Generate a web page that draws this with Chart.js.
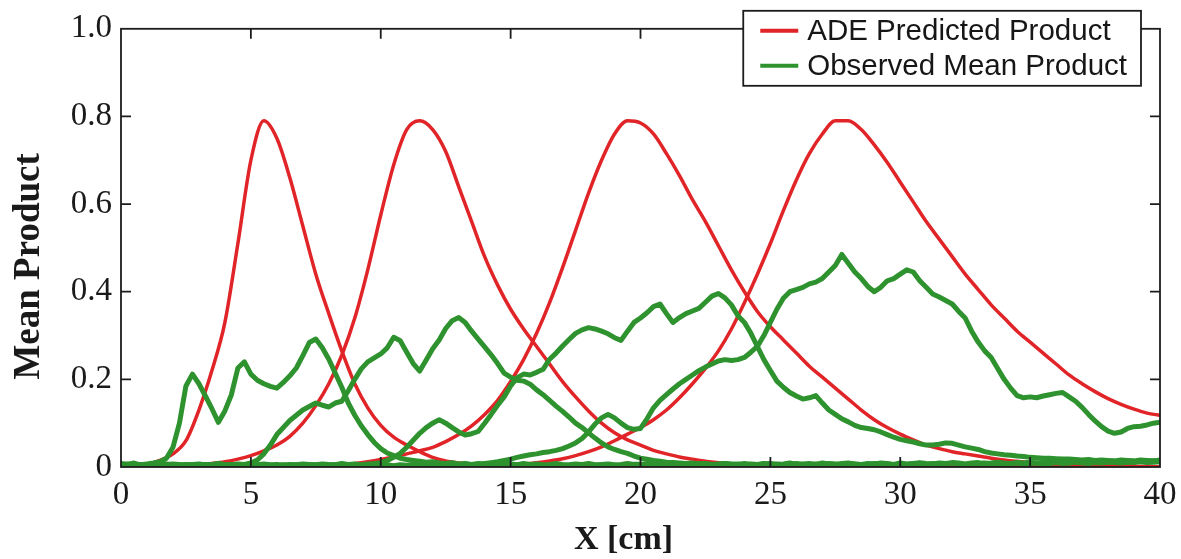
<!DOCTYPE html>
<html>
<head>
<meta charset="utf-8">
<script src="https://cdn.jsdelivr.net/npm/chart.js@4.4.1/dist/chart.umd.min.js"></script>
<style>
  html, body { margin: 0; padding: 0; background: #fff; }
</style>
</head>
<body>
<canvas id="product_chart" width="1181" height="559"></canvas>
<script>
// axis ticks
const xTickValues = [0, 5, 10, 15, 20, 25, 30, 35, 40];
const xTickLabels = ['0', '5', '10', '15', '20', '25', '30', '35', '40'];
const yTickValues = [0, 0.2, 0.4, 0.6, 0.8, 1.0];
const yTickLabels = ['0', '0.2', '0.4', '0.6', '0.8', '1.0'];

const seriesNames = ['ADE Predicted Product', 'Observed Mean Product'];

// ADE predictions, sampled every 0.5 cm from x = 0 to 40
const RED_STEP = 0.5;
const ade1 = [
  0, 0.001, 0.006, 0.015, 0.03, 0.06, 0.13, 0.22, 0.33, 0.51,
  0.70, 0.79, 0.75, 0.66, 0.55, 0.44, 0.35, 0.265, 0.19, 0.135,
  0.095, 0.068, 0.05, 0.035, 0.022, 0.014, 0.009, 0.005, 0.003, 0.002,
  0.001, 0, 0, 0, 0, 0, 0, 0, 0, 0,
  0, 0, 0, 0, 0, 0, 0, 0, 0, 0,
  0, 0, 0, 0, 0, 0, 0, 0, 0, 0,
  0, 0, 0, 0, 0, 0, 0, 0, 0, 0,
  0, 0, 0, 0, 0, 0, 0, 0, 0, 0,
  0
];
const ade2 = [
  0, 0, 0, 0.001, 0.002, 0.003, 0.005, 0.008, 0.012, 0.018,
  0.026, 0.037, 0.05, 0.07, 0.1, 0.14, 0.19, 0.255, 0.34, 0.45,
  0.575, 0.69, 0.77, 0.79, 0.77, 0.72, 0.64, 0.56, 0.48, 0.415,
  0.36, 0.315, 0.275, 0.235, 0.195, 0.16, 0.128, 0.1, 0.078, 0.062,
  0.05, 0.038, 0.03, 0.023, 0.018, 0.013, 0.01, 0.007, 0.005, 0.004,
  0.003, 0.002, 0.002, 0.001, 0, 0, 0, 0, 0, 0,
  0, 0, 0, 0, 0, 0, 0, 0, 0, 0,
  0, 0, 0, 0, 0, 0, 0, 0, 0, 0,
  0
];
const ade3 = [
  0, 0, 0, 0, 0, 0, 0, 0, 0, 0,
  0, 0, 0.001, 0.001, 0.002, 0.002, 0.003, 0.005, 0.008, 0.012,
  0.017, 0.023, 0.03, 0.037, 0.045, 0.058, 0.074, 0.094, 0.12, 0.152,
  0.195, 0.245, 0.305, 0.375, 0.455, 0.54, 0.625, 0.70, 0.76, 0.79,
  0.785, 0.76, 0.715, 0.665, 0.61, 0.56, 0.505, 0.45, 0.40, 0.355,
  0.32, 0.29, 0.26, 0.23, 0.205, 0.18, 0.155, 0.13, 0.108, 0.09,
  0.075, 0.062, 0.05, 0.042, 0.035, 0.03, 0.025, 0.02, 0.016, 0.013,
  0.01, 0.008, 0.006, 0.005, 0.004, 0.003, 0.002, 0.002, 0.001, 0.001,
  0
];
const ade4 = [
  0, 0, 0, 0, 0, 0, 0, 0, 0, 0,
  0, 0, 0, 0, 0, 0, 0, 0, 0, 0,
  0, 0, 0, 0, 0, 0, 0.001, 0.001, 0.002, 0.003,
  0.005, 0.007, 0.01, 0.014, 0.019, 0.026, 0.035, 0.046, 0.06, 0.075,
  0.09, 0.108, 0.13, 0.158, 0.19, 0.225, 0.265, 0.315, 0.375, 0.44,
  0.51, 0.585, 0.655, 0.715, 0.76, 0.79, 0.79, 0.77, 0.735, 0.695,
  0.65, 0.605, 0.56, 0.52, 0.48, 0.44, 0.405, 0.37, 0.34, 0.31,
  0.285, 0.26, 0.235, 0.21, 0.19, 0.172, 0.156, 0.143, 0.132, 0.123,
  0.118
];

// observed means, sampled every 0.25 cm from x = 0 to 40
const GREEN_STEP = 0.25;
const obs1 = [
  0.008, 0.006, 0.009, 0.005, 0.007, 0.009, 0.012, 0.02, 0.045, 0.1, 0.185, 0.212, 0.19, 0.162, 0.133, 0.102, 0.128, 0.165, 0.226, 0.24,
  0.212, 0.198, 0.19, 0.184, 0.18, 0.193, 0.208, 0.226, 0.254, 0.284, 0.292, 0.272, 0.246, 0.214, 0.182, 0.146, 0.118, 0.094, 0.074, 0.056,
  0.042, 0.032, 0.026, 0.02, 0.017, 0.015, 0.013, 0.011, 0.012, 0.009, 0.008, 0.01, 0.007, 0.008, 0.006, 0.008, 0.007, 0.005, 0.007, 0.006,
  0.007, 0.005, 0.008, 0.006, 0.007, 0.005, 0.006, 0.008, 0.006, 0.005, 0.007, 0.006, 0.008, 0.005, 0.006, 0.007, 0.005, 0.006, 0.008, 0.006,
  0.006, 0.008, 0.005, 0.007, 0.006, 0.008, 0.007, 0.005, 0.006, 0.008, 0.007, 0.006, 0.005, 0.008, 0.007, 0.006, 0.008, 0.006, 0.005, 0.007,
  0.008, 0.006, 0.007, 0.009, 0.006, 0.007, 0.008, 0.006, 0.009, 0.007, 0.006, 0.008, 0.009, 0.007, 0.006, 0.008, 0.007, 0.009, 0.008, 0.006,
  0.009, 0.007, 0.008, 0.01, 0.008, 0.007, 0.009, 0.008, 0.01, 0.009, 0.007, 0.009, 0.01, 0.008, 0.009, 0.011, 0.009, 0.008, 0.01, 0.009,
  0.011, 0.009, 0.01, 0.012, 0.01, 0.011, 0.009, 0.012, 0.011, 0.01, 0.012, 0.011, 0.013, 0.011, 0.012, 0.014, 0.012, 0.013, 0.012, 0.014,
  0.013
];
const obs2 = [
  0.005, 0.007, 0.004, 0.006, 0.005, 0.008, 0.006, 0.005, 0.007, 0.006, 0.004, 0.006, 0.007, 0.005, 0.006, 0.008, 0.006, 0.005, 0.007, 0.006,
  0.009, 0.016, 0.03, 0.05, 0.074, 0.09, 0.106, 0.118, 0.13, 0.138, 0.146, 0.141, 0.137, 0.146, 0.15, 0.174, 0.2, 0.224, 0.24, 0.249,
  0.258, 0.272, 0.296, 0.288, 0.262, 0.236, 0.219, 0.244, 0.27, 0.29, 0.316, 0.334, 0.341, 0.33, 0.31, 0.292, 0.274, 0.256, 0.236, 0.214,
  0.205, 0.198, 0.196, 0.189, 0.176, 0.165, 0.152, 0.139, 0.127, 0.114, 0.1, 0.09, 0.078, 0.066, 0.055, 0.046, 0.04, 0.035, 0.031, 0.025,
  0.02, 0.018, 0.015, 0.013, 0.011, 0.01, 0.009, 0.008, 0.009, 0.007, 0.008, 0.006, 0.007, 0.008, 0.006, 0.007, 0.005, 0.007, 0.006, 0.008,
  0.006, 0.007, 0.005, 0.006, 0.008, 0.006, 0.005, 0.007, 0.006, 0.008, 0.007, 0.005, 0.006, 0.007, 0.005, 0.006, 0.008, 0.006, 0.007, 0.005,
  0.007, 0.006, 0.008, 0.007, 0.006, 0.008, 0.006, 0.007, 0.009, 0.007, 0.006, 0.008, 0.007, 0.009, 0.007, 0.008, 0.006, 0.008, 0.009, 0.007,
  0.008, 0.009, 0.007, 0.008, 0.01, 0.008, 0.009, 0.011, 0.009, 0.008, 0.01, 0.009, 0.011, 0.01, 0.009, 0.011, 0.01, 0.012, 0.01, 0.011,
  0.012
];
const obs3 = [
  0.005, 0.004, 0.006, 0.005, 0.004, 0.006, 0.005, 0.007, 0.005, 0.004, 0.006, 0.005, 0.004, 0.006, 0.005, 0.007, 0.005, 0.006, 0.004, 0.005,
  0.006, 0.005, 0.007, 0.005, 0.006, 0.004, 0.006, 0.005, 0.007, 0.006, 0.005, 0.007, 0.006, 0.005, 0.008, 0.006, 0.007, 0.005, 0.007, 0.008,
  0.01, 0.015, 0.022, 0.031, 0.045, 0.061, 0.077, 0.09, 0.1, 0.108, 0.1, 0.09, 0.08, 0.073, 0.076, 0.081, 0.1, 0.12, 0.141, 0.16,
  0.185, 0.204, 0.212, 0.21, 0.216, 0.223, 0.246, 0.26, 0.276, 0.291, 0.305, 0.313, 0.318, 0.315, 0.31, 0.304, 0.295, 0.289, 0.31, 0.33,
  0.34, 0.352, 0.366, 0.372, 0.35, 0.33, 0.341, 0.35, 0.356, 0.362, 0.376, 0.39, 0.396, 0.386, 0.37, 0.345, 0.33, 0.305, 0.275, 0.245,
  0.22, 0.196, 0.182, 0.17, 0.162, 0.155, 0.158, 0.163, 0.146, 0.13, 0.12, 0.11, 0.103, 0.095, 0.09, 0.088, 0.085, 0.08, 0.074, 0.068,
  0.063, 0.06, 0.057, 0.053, 0.05, 0.05, 0.052, 0.055, 0.054, 0.05, 0.046, 0.043, 0.04, 0.035, 0.032, 0.03, 0.028, 0.027, 0.025, 0.024,
  0.022, 0.021, 0.02, 0.02, 0.019, 0.018, 0.018, 0.017, 0.016, 0.017, 0.015, 0.016, 0.015, 0.014, 0.016, 0.015, 0.014, 0.016, 0.015, 0.014,
  0.016
];
const obs4 = [
  0.004, 0.005, 0.003, 0.004, 0.005, 0.004, 0.003, 0.005, 0.004, 0.003, 0.005, 0.004, 0.005, 0.003, 0.004, 0.005, 0.004, 0.003, 0.004, 0.005,
  0.003, 0.004, 0.005, 0.004, 0.003, 0.005, 0.004, 0.005, 0.003, 0.004, 0.005, 0.003, 0.004, 0.005, 0.004, 0.003, 0.005, 0.004, 0.005, 0.004,
  0.004, 0.005, 0.003, 0.005, 0.004, 0.006, 0.004, 0.005, 0.006, 0.004, 0.005, 0.006, 0.005, 0.007, 0.005, 0.006, 0.008, 0.01, 0.012, 0.015,
  0.018, 0.022, 0.025, 0.028, 0.03, 0.033, 0.035, 0.038, 0.042, 0.048, 0.055, 0.065, 0.08, 0.098, 0.112, 0.12, 0.112, 0.1, 0.09, 0.086,
  0.088, 0.11, 0.135, 0.152, 0.165, 0.178, 0.19, 0.2, 0.21, 0.22, 0.228, 0.235, 0.242, 0.245, 0.243, 0.245, 0.25, 0.262, 0.275, 0.3,
  0.33, 0.36, 0.385, 0.4, 0.405, 0.41, 0.418, 0.422, 0.43, 0.445, 0.46, 0.485, 0.465, 0.445, 0.43, 0.412, 0.4, 0.41, 0.425, 0.43,
  0.44, 0.45, 0.445, 0.425, 0.41, 0.395, 0.388, 0.38, 0.372, 0.355, 0.34, 0.31, 0.285, 0.265, 0.25, 0.225, 0.2, 0.18, 0.163, 0.158,
  0.16, 0.158, 0.162, 0.165, 0.168, 0.17, 0.16, 0.15, 0.136, 0.12, 0.105, 0.092, 0.082, 0.077, 0.08, 0.088, 0.092, 0.093, 0.096, 0.1,
  0.102
];

const RED = '#e02427';
const GREEN = '#2e922e';

function toPoints(values, step) {
    return values.map((v, i) => ({x: i * step, y: v}));
}

function redLine(values) {
    return {
        label: seriesNames[0],
        data: toPoints(values, RED_STEP),
        borderColor: RED,
        borderWidth: 3.5,
        cubicInterpolationMode: 'monotone',
        pointRadius: 0,
        order: 2
    };
}

function greenLine(values) {
    return {
        label: seriesNames[1],
        data: toPoints(values, GREEN_STEP),
        borderColor: GREEN,
        borderWidth: 5,
        borderJoinStyle: 'round',
        tension: 0,
        pointRadius: 0,
        order: 1
    };
}

// box around the plot with inward ticks on all four sides
const frameTicks = {
    id: 'frameTicks',
    afterDatasetsDraw(chart) {
        const {ctx, chartArea: a, scales: {x, y}} = chart;
        const len = 10;
        ctx.save();
        ctx.strokeStyle = '#1c1c1c';
        ctx.lineWidth = 1.8;
        ctx.strokeRect(a.left, a.top, a.right - a.left, a.bottom - a.top);
        ctx.beginPath();
        x.ticks.forEach(t => {
            if (t.value <= x.min || t.value >= x.max) return;
            const px = x.getPixelForValue(t.value);
            ctx.moveTo(px, a.bottom); ctx.lineTo(px, a.bottom - len);
            ctx.moveTo(px, a.top); ctx.lineTo(px, a.top + len);
        });
        y.ticks.forEach(t => {
            if (t.value <= y.min || t.value >= y.max) return;
            const py = y.getPixelForValue(t.value);
            ctx.moveTo(a.left, py); ctx.lineTo(a.left + len, py);
            ctx.moveTo(a.right, py); ctx.lineTo(a.right - len, py);
        });
        ctx.stroke();
        ctx.restore();
    }
};

// boxed legend sitting over the top-right corner of the frame
const boxLegend = {
    id: 'boxLegend',
    afterDraw(chart) {
        const {ctx, chartArea: a} = chart;
        const seen = {};
        const items = [];
        chart.data.datasets.forEach(ds => {
            if (seen[ds.label]) return;
            seen[ds.label] = true;
            items.push({text: ds.label, color: ds.borderColor});
        });
        ctx.save();
        ctx.font = '29.5px "Liberation Sans", Arial, sans-serif';
        const textW = Math.max(...items.map(it => ctx.measureText(it.text).width));
        const w = 64 + textW + 14;
        const h = 75;
        const right = a.right - 19;
        const left = right - w;
        const top = a.top - 18;
        ctx.fillStyle = '#fff';
        ctx.fillRect(left, top, w, h);
        ctx.strokeStyle = '#1c1c1c';
        ctx.lineWidth = 1.8;
        ctx.strokeRect(left, top, w, h);
        items.forEach((it, i) => {
            const cy = top + 20 + i * 35;
            ctx.strokeStyle = it.color;
            ctx.lineWidth = 4;
            ctx.beginPath();
            ctx.moveTo(left + 17, cy);
            ctx.lineTo(left + 55, cy);
            ctx.stroke();
            ctx.fillStyle = '#161616';
            ctx.textBaseline = 'middle';
            ctx.fillText(it.text, left + 64, cy + 1);
        });
        ctx.restore();
    }
};

const serif = '"Liberation Serif", "Times New Roman", serif';

const ctx = document.getElementById('product_chart');
const productChart = new Chart(ctx, {
    type: 'line',
    data: {
        datasets: [
            redLine(ade1), redLine(ade2), redLine(ade3), redLine(ade4),
            greenLine(obs1), greenLine(obs2), greenLine(obs3), greenLine(obs4)
        ]
    },
    options: {
        responsive: false,
        devicePixelRatio: 1,
        animation: false,
        layout: { padding: { top: 27, right: 21, left: 0, bottom: 0 } },
        plugins: {
            legend: { display: false },
            tooltip: { enabled: false }
        },
        scales: {
            x: {
                type: 'linear',
                min: 0,
                max: 40,
                afterBuildTicks: s => { s.ticks = xTickValues.map(v => ({value: v})); },
                afterFit: s => {
                    s.height = 92;
                    // let the outer tick labels hang into the margins
                    s.paddingLeft = 0;
                    s.paddingRight = 0;
                },
                grid: { display: false, drawTicks: false },
                border: { display: false },
                ticks: {
                    color: '#1a1a1a',
                    padding: 9,
                    maxRotation: 0,
                    font: { family: serif, size: 33 },
                    callback: (v, i) => xTickLabels[i]
                },
                title: {
                    display: true,
                    // trailing spaces nudge the centred title left
                    text: 'X [cm]\u00a0\u00a0\u00a0\u00a0',
                    color: '#1a1a1a',
                    padding: { top: 0, bottom: -2 },
                    font: { family: serif, size: 34, weight: 'bold' }
                }
            },
            y: {
                min: 0,
                max: 1,
                afterBuildTicks: s => { s.ticks = yTickValues.map(v => ({value: v})); },
                afterFit: s => { s.width = 121; },
                grid: { display: false, drawTicks: false },
                border: { display: false },
                ticks: {
                    color: '#1a1a1a',
                    padding: 9,
                    font: { family: serif, size: 33 },
                    callback: (v, i) => yTickLabels[i]
                },
                title: {
                    display: true,
                    // trailing spaces nudge the rotated title downwards
                    text: 'Mean Product\u00a0\u00a0\u00a0\u00a0',
                    color: '#1a1a1a',
                    padding: { top: 7, bottom: 0 },
                    font: { family: serif, size: 37, weight: 'bold' }
                }
            }
        }
    },
    plugins: [frameTicks, boxLegend]
});
</script>
</body>
</html>
